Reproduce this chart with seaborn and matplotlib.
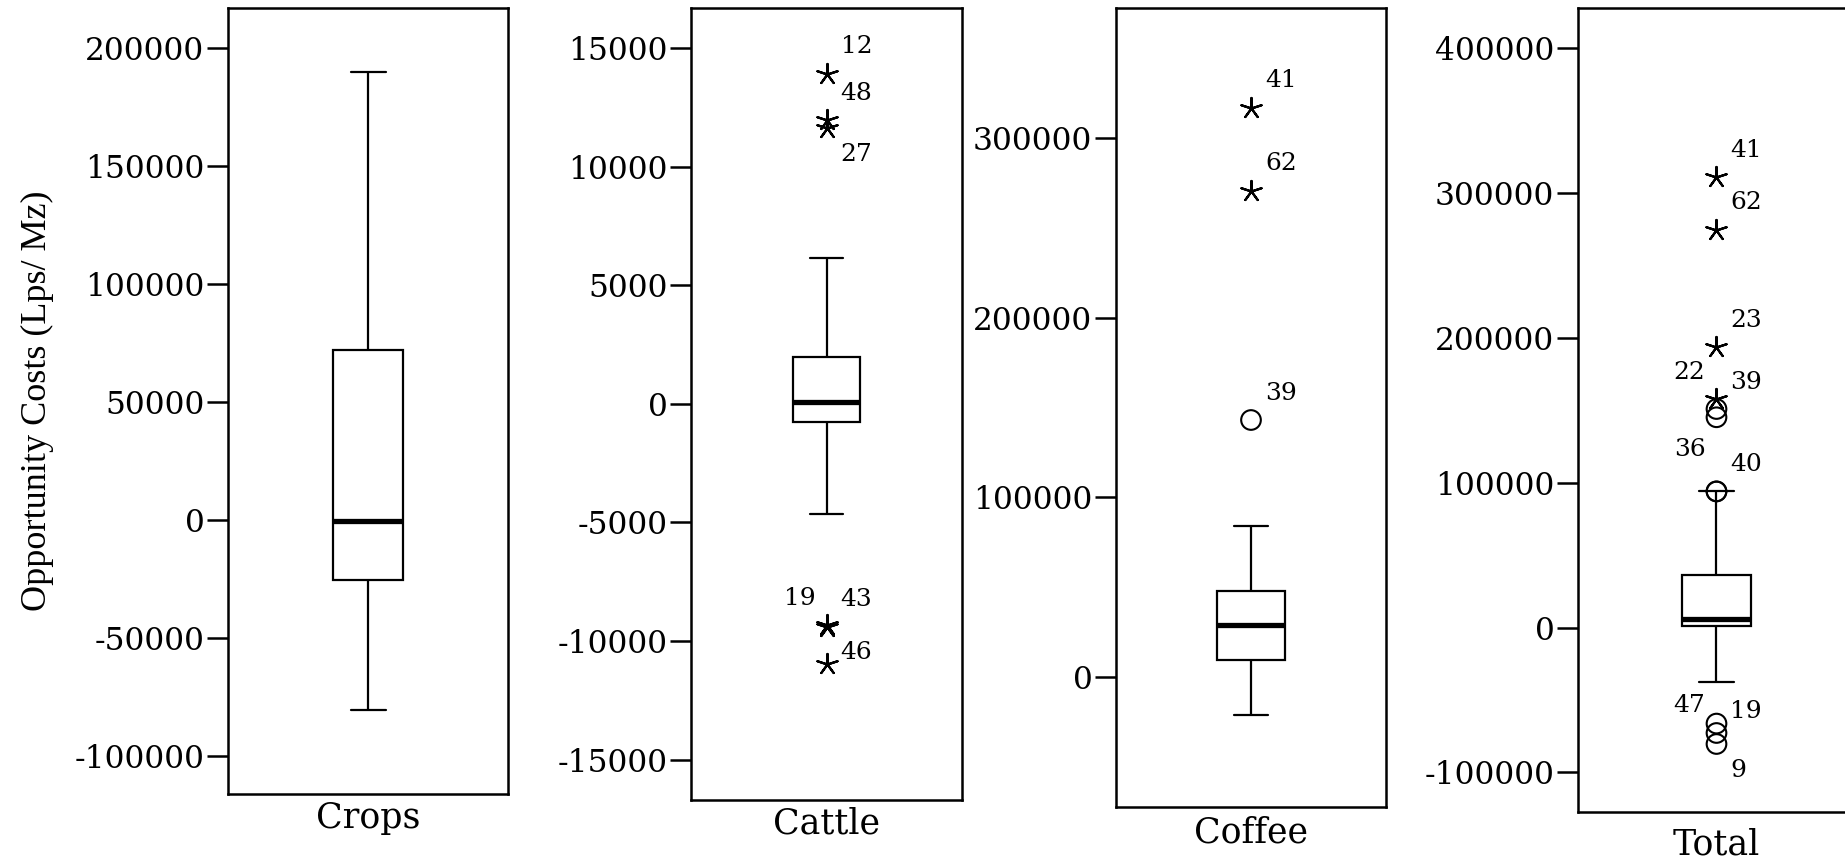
import numpy as np
import pandas as pd
import matplotlib
matplotlib.use("Agg")
import matplotlib.pyplot as plt
import seaborn as sns

# ---------------- data ----------------
groups = ["Crops", "Cattle", "Coffee", "Total"]

# five-number summaries: lower whisker, Q1, median, Q3, upper whisker
crops_stats = [-80500, -25300, -300, 72100, 189800]
cattle_stats = [-4625, -763, 69, 1966, 6152]
coffee_stats = [-21400, 9170, 29050, 48000, 84100]
total_stats = [-37500, 1100, 5700, 36400, 94000]

# extreme values (stars)
crops_star_vals, crops_star_labels = [], []
cattle_star_vals = [13920, 11960, 11630, -9340, -9400, -10985]
cattle_star_labels = ["12", "48", "27", "19", "43", "46"]
coffee_star_vals = [317100, 270900]
coffee_star_labels = ["41", "62"]
total_star_vals = [311000, 274800, 193700, 157700]
total_star_labels = ["41", "62", "23", "22"]

# outliers (circles)
crops_circ_vals, crops_circ_labels = [], []
cattle_circ_vals, cattle_circ_labels = [], []
coffee_circ_vals = [143100]
coffee_circ_labels = ["39"]
total_circ_vals = [150900, 145200, 94000, 94000, -66300, -72800, -80400]
total_circ_labels = ["39", "", "40", "36", "19", "47", "9"]

y_ticks = {
    "Crops": [-100000, -50000, 0, 50000, 100000, 150000, 200000],
    "Cattle": [-15000, -10000, -5000, 0, 5000, 10000, 15000],
    "Coffee": [0, 100000, 200000, 300000],
    "Total": [-100000, 0, 100000, 200000, 300000, 400000],
}
y_limits = {
    "Crops": (-116100, 217200),
    "Cattle": (-16700, 16700),
    "Coffee": (-72500, 372800),
    "Total": (-127700, 428000),
}
y_label = "Opportunity Costs (Lps/ Mz)"

stats = {"Crops": crops_stats, "Cattle": cattle_stats,
         "Coffee": coffee_stats, "Total": total_stats}
stars = {"Crops": (crops_star_vals, crops_star_labels),
         "Cattle": (cattle_star_vals, cattle_star_labels),
         "Coffee": (coffee_star_vals, coffee_star_labels),
         "Total": (total_star_vals, total_star_labels)}
circs = {"Crops": (crops_circ_vals, crops_circ_labels),
         "Cattle": (cattle_circ_vals, cattle_circ_labels),
         "Coffee": (coffee_circ_vals, coffee_circ_labels),
         "Total": (total_circ_vals, total_circ_labels)}

# label placement style: offsets in pixels (dx, dy, ha)
UR = (14, 27, "left")
UL = (-11, 27, "right")
DR = (14, -27, "left")
R = (14, 12, "left")
label_place = {
    ("Cattle", "12"): UR, ("Cattle", "48"): UR, ("Cattle", "27"): DR,
    ("Cattle", "19"): UL, ("Cattle", "43"): UR, ("Cattle", "46"): R,
    ("Coffee", "41"): UR, ("Coffee", "62"): UR, ("Coffee", "39"): UR,
    ("Total", "41"): UR, ("Total", "62"): UR, ("Total", "23"): UR,
    ("Total", "22"): UL, ("Total", "39"): UR, ("Total", "40"): UR,
    ("Total", "36"): (-11, 42, "right"), ("Total", "19"): R,
    ("Total", "47"): UL, ("Total", "9"): DR,
}
xlabel_pad = {"Crops": 5, "Cattle": 5, "Coffee": 6, "Total": 11}

# ---------------- style ----------------
sns.set_theme(style="white")
plt.rcParams["font.family"] = ["DejaVu Serif", "Liberation Serif"]
plt.rcParams["axes.unicode_minus"] = False

fig = plt.figure(figsize=(18.45, 8.61), dpi=100)

# axes rectangles in figure fractions [left, bottom, width, height]
rects = {
    "Crops": [0.12358, 0.07782, 0.15176, 0.91324],
    "Cattle": [0.37453, 0.07085, 0.14688, 0.92021],
    "Coffee": [0.60488, 0.06272, 0.14634, 0.92834],
    "Total": [0.85528, 0.05633, 0.15014, 0.93473],
}

TICK_FS = 22.5
XLAB_FS = 25
ANN_FS = 18

for g in groups:
    ax = fig.add_axes(rects[g])
    df = pd.DataFrame({"group": [g] * len(stats[g]), "value": stats[g]})
    sns.boxplot(data=df, x="group", y="value", ax=ax, whis=(0, 100),
                showfliers=False, width=0.25, color="white", linecolor="black",
                linewidth=1.6, fill=True,
                medianprops={"linewidth": 3.8, "color": "black"},
                capprops={"linewidth": 1.6})

    sv, sl = stars[g]
    if sv:
        sns.scatterplot(x=[g] * len(sv), y=sv, ax=ax, marker=(5, 2, 0),
                        s=230, color="black", linewidth=1.6, legend=False,
                        zorder=5)
    cv, cl = circs[g]
    if cv:
        sns.scatterplot(x=[g] * len(cv), y=cv, ax=ax, marker="o", s=200,
                        facecolors="none", edgecolors="black",
                        linewidth=1.5, legend=False, zorder=5)

    for vals, labs in ((sv, sl), (cv, cl)):
        for v, lab in zip(vals, labs):
            if not lab:
                continue
            dx, dy, ha = label_place[(g, lab)]
            ax.annotate(lab, xy=(0, v), xytext=(dx, dy),
                        textcoords="offset pixels", ha=ha, va="center",
                        fontsize=ANN_FS, color="black")

    ax.set_xlim(-0.5, 0.5)
    ax.set_ylim(*y_limits[g])
    ax.set_yticks(y_ticks[g])
    ax.set_yticklabels([str(t) for t in y_ticks[g]], fontsize=TICK_FS)
    ax.set_xlabel("")
    ax.set_ylabel("")
    ax.tick_params(axis="y", direction="out", length=15, width=1.8,
                   pad=2, color="black", labelcolor="black", left=True)
    ax.tick_params(axis="x", length=0, pad=xlabel_pad[g], labelsize=XLAB_FS,
                   labelcolor="black")
    for sp in ax.spines.values():
        sp.set_visible(True)
        sp.set_color("black")
        sp.set_linewidth(1.8)
    ax.grid(False)
    if g == "Crops":
        ax.set_ylabel(y_label, fontsize=26, color="black",
                      family=["Liberation Serif", "DejaVu Serif"])
        ax.yaxis.set_label_coords(-0.62, 0.5)

fig.savefig("out.png", dpi=100, facecolor="white")
